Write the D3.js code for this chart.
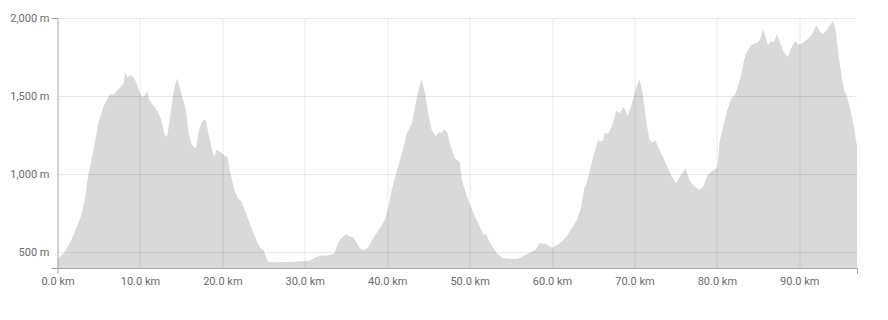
<!DOCTYPE html>
<html><head><meta charset="utf-8">
<script src="https://cdn.jsdelivr.net/npm/d3@7"></script>
<style>
html,body{margin:0;padding:0;background:#fff;}
svg{display:block;font-family:Roboto,"Liberation Sans",sans-serif;}
</style></head>
<body>
<svg id="chart" width="888" height="320"></svg>
<script>
const distanceKm = [0,0.9,1.5,2.1,2.9,3.3,3.7,4.35,4.95,5.55,6.35,6.75,7.4,8.0,8.27,8.5,8.8,9.2,9.6,10.0,10.3,10.6,10.9,11.1,11.6,12.2,12.6,13.0,13.3,13.65,14.05,14.5,14.9,15.3,15.55,15.9,16.3,16.8,17.1,17.5,18.0,18.3,18.7,19.0,19.3,19.9,20.3,20.6,20.9,21.5,21.9,22.35,22.95,23.55,24.2,24.6,25.0,25.4,25.6,27.0,28.6,30.6,31.25,32.05,32.5,33.1,33.6,34.1,34.5,35.0,35.3,35.9,36.3,36.7,37.2,37.7,38.3,39.1,39.7,40.15,40.55,41.2,41.8,42.4,43.0,43.6,44.15,44.6,45.0,45.4,45.9,46.3,46.6,46.9,47.3,47.6,48.2,48.8,49.05,49.7,50.3,51.05,51.7,52.0,52.5,53.3,54.1,55.3,55.9,56.5,57.3,57.95,58.5,59.2,59.8,60.0,60.8,61.6,62.4,63.0,63.5,63.9,64.2,64.6,65.0,65.6,65.8,66.2,66.4,66.8,67.3,67.8,68.2,68.7,69.15,69.7,70.2,70.6,71.0,71.4,71.8,72.2,72.5,73.1,73.9,74.5,75.05,75.5,76.2,76.65,77.2,77.9,78.4,78.8,79.4,79.9,80.1,80.3,80.6,81.2,81.8,82.2,82.6,82.9,83.3,83.6,84.05,84.65,85.05,85.3,85.6,85.9,86.2,86.6,86.9,87.3,87.7,88.1,88.6,89.1,89.5,89.9,90.3,90.9,91.5,92.1,92.5,92.9,93.5,94.1,94.4,94.8,95.2,95.5,95.8,96.2,96.6,96.9,97.0];
const elevationM = [456,504,558,632,739,835,984,1155,1326,1432,1512,1507,1544,1582,1654,1620,1635,1624,1582,1518,1492,1507,1533,1475,1443,1400,1347,1251,1240,1358,1518,1614,1539,1464,1422,1262,1187,1166,1272,1336,1352,1262,1166,1112,1155,1138,1117,1112,1027,888,846,824,739,654,568,530,515,456,438,437,440,447,468,481,477,485,494,568,594,618,605,596,558,526,515,532,590,654,707,792,899,1027,1134,1262,1326,1496,1608,1518,1379,1283,1245,1272,1262,1288,1266,1198,1102,1080,963,856,771,686,611,618,558,494,462,458,460,477,498,515,558,556,536,530,552,590,654,707,782,910,942,1027,1112,1219,1208,1219,1266,1258,1315,1407,1390,1432,1373,1454,1550,1608,1518,1347,1224,1202,1219,1151,1059,989,942,984,1038,963,925,899,925,990,1020,1035,1060,1198,1270,1400,1492,1507,1571,1624,1731,1778,1821,1838,1848,1870,1928,1880,1827,1855,1842,1898,1838,1784,1752,1816,1853,1827,1838,1859,1891,1955,1912,1898,1934,1983,1923,1752,1603,1528,1496,1411,1315,1208,1180];
const xTicks = [0,10,20,30,40,50,60,70,80,90];
const yTicks = [500,1000,1500,2000];
const xDomain = [0, 97];
const yDomain = [400, 2000];

const data = distanceKm.map((d,i)=>({km:d, m:elevationM[i]}));

const W = 888, H = 320;
const margin = {top:18, right:31, bottom:52, left:57.5};
const iw = W - margin.left - margin.right;
const ih = H - margin.top - margin.bottom;

const svg = d3.select("#chart");
const g = svg.append("g").attr("transform",`translate(${margin.left},${margin.top})`);

const x = d3.scaleLinear().domain(xDomain).range([0, iw]);
const y = d3.scaleLinear().domain(yDomain).range([ih, 0]);

// area
const area = d3.area().x(d=>x(d.km)).y0(ih).y1(d=>y(d.m)).curve(d3.curveLinear);
g.append("path").datum(data).attr("d", area).attr("fill","#d9d9d9");

// grid
g.append("g").selectAll("line.v").data(xTicks.filter(t=>t>0)).join("line")
  .attr("x1",d=>Math.round(x(d))+0.5).attr("x2",d=>Math.round(x(d))+0.5)
  .attr("y1",0).attr("y2",ih).attr("stroke","rgba(0,0,0,0.09)");
g.append("g").selectAll("line.h").data(yTicks).join("line")
  .attr("x1",0).attr("x2",iw)
  .attr("y1",d=>Math.round(y(d))+0.5).attr("y2",d=>Math.round(y(d))+0.5)
  .attr("stroke","rgba(0,0,0,0.09)");

// axes
const yAxis = d3.axisLeft(y).tickValues(yTicks).tickSizeInner(0).tickSizeOuter(6).tickPadding(8)
  .tickFormat(d=>d3.format(",")(d)+" m");
const xAxis = d3.axisBottom(x).tickValues(xTicks).tickSizeInner(0).tickSizeOuter(6).tickPadding(9)
  .tickFormat(d=>d3.format(".1f")(d)+" km");

const ya = g.append("g").call(yAxis);
const xa = g.append("g").attr("transform",`translate(0,${ih})`).call(xAxis);
[ya, xa].forEach(a=>{
  a.select(".domain").attr("stroke","#a6a6a6");
  a.selectAll("text").attr("fill","#6b6b6b").style("font-size","11px").style("font-family","Roboto, sans-serif");
});
</script>
</body></html>
